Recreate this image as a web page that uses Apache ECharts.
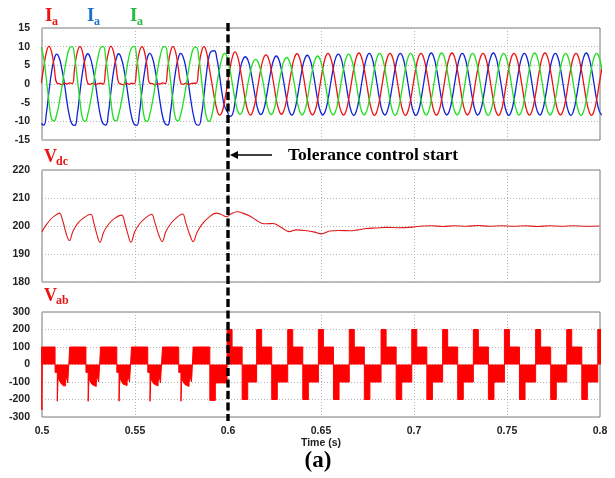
<!DOCTYPE html>
<html><head><meta charset="utf-8">
<script src="https://cdn.jsdelivr.net/npm/echarts@6/dist/echarts.min.js"></script>
<style>html,body{margin:0;padding:0;background:#fff}#c{width:615px;height:478px}</style>
</head><body><div id="c"></div>
<script>
// ---------- data ----------
const timeTicks = [0.5, 0.55, 0.6, 0.65, 0.7, 0.75, 0.8];
const FAULT_TIME = 0.6;
// phase currents sampled every 1/720 s starting at CURRENT_T0
const CURRENT_T0 = 0.49958;
const CURRENT_STEP = 1 / 720;
const iaRed = [
 0.2,4.5,8.5,10.1,8.6,4.6,0.3,0.1,-0.2,0.2,0.0,0.3,
 0.1,4.6,8.6,10.0,8.5,4.4,0.2,-0.1,0.2,-0.2,0.1,0.2,
 0.0,4.5,8.4,10.1,8.6,4.5,0.3,0.0,-0.2,0.2,-0.1,0.2,
 0.1,4.6,8.6,10.0,8.5,4.5,0.2,0.1,-0.2,0.1,0.0,0.3,
 0.1,4.5,8.5,10.0,8.6,4.6,0.3,-0.1,0.2,-0.1,0.1,0.2,
 0.2,4.5,8.5,10.0,8.5,4.5,0.5,-3.5,-6.8,-8.3,-7.5,-4.5,
 -0.5,3.8,7.2,8.6,7.4,4.2,0.0,-4.2,-7.2,-8.3,-7.1,-4.1,
 0.0,3.9,6.8,7.8,6.8,3.9,0.0,-4.1,-7.0,-8.1,-7.0,-4.1,
 0.0,4.0,7.0,8.1,7.0,4.0,0.0,-4.2,-7.2,-8.3,-7.2,-4.2,
 0.0,4.1,7.1,8.2,7.1,4.1,0.0,-4.2,-7.2,-8.3,-7.2,-4.1,
 0.0,4.1,7.2,8.3,7.1,4.1,0.0,-4.2,-7.2,-8.4,-7.2,-4.2,
 0.0,4.1,7.1,8.2,7.1,4.1,0.0,-4.2,-7.3,-8.4,-7.2,-4.2,
 0.0,4.1,7.1,8.2,7.1,4.1,0.0,-4.1,-7.2,-8.3,-7.2,-4.1,
 0.0,4.2,7.2,8.3,7.2,4.1,0.0,-4.2,-7.2,-8.3,-7.2,-4.2,
 0.0,4.1,7.1,8.2,7.1,4.1,0.0,-4.2,-7.3,-8.4,-7.3,-4.2,
 0.0,4.1,7.1,8.2,7.1,4.1,0.0,-4.1,-7.2,-8.3,-7.2,-4.1,
 0.0,4.2,7.2,8.3,7.2,4.1,0.0,-4.2,-7.2,-8.3,-7.2,-4.2,
 0.0,4.1,7.1,8.2,7.1,4.1,0.0,-4.2,-7.2,-8.4,-7.2,-4.2,
 0.0,4.1
];
const iaBlue = [
 -10.6,-11.0,-7.8,-2.0,3.2,6.6,8.0,6.9,4.0,0.0,-4.9,-8.8,
 -10.8,-11.1,-7.9,-2.1,3.1,6.7,8.1,7.0,4.1,0.1,-4.8,-8.7,
 -10.7,-11.0,-7.8,-2.0,3.3,6.7,8.1,6.9,4.0,-0.1,-4.9,-8.8,
 -10.8,-11.1,-7.9,-1.9,3.2,6.8,8.2,7.1,4.1,0.0,-4.8,-8.7,
 -10.7,-11.0,-7.7,-1.9,3.3,6.8,8.2,7.1,4.2,0.1,-4.7,-8.6,
 -10.8,-11.0,-8.5,-3.0,3.0,7.5,8.8,8.9,6.8,2.5,-2.5,-6.0,
 -7.3,-8.7,-8.2,-5.0,-0.5,3.8,6.4,7.3,6.4,3.7,0.0,-4.0,
 -7.1,-8.2,-7.1,-4.1,0.0,3.8,6.5,7.5,6.5,3.8,0.0,-4.1,
 -7.2,-8.3,-7.2,-4.1,0.0,3.9,6.7,7.7,6.7,3.9,0.0,-4.2,
 -7.2,-8.3,-7.2,-4.2,0.0,4.0,7.0,8.0,7.0,4.0,0.0,-4.2,
 -7.3,-8.4,-7.2,-4.2,0.0,4.1,7.1,8.2,7.1,4.1,0.0,-4.2,
 -7.2,-8.3,-7.2,-4.1,0.0,4.1,7.1,8.2,7.1,4.1,0.0,-4.2,
 -7.3,-8.4,-7.3,-4.2,0.0,4.1,7.2,8.3,7.1,4.1,0.0,-4.2,
 -7.2,-8.3,-7.2,-4.2,0.0,4.1,7.1,8.2,7.1,4.1,0.0,-4.1,
 -7.2,-8.3,-7.2,-4.2,0.0,4.2,7.2,8.3,7.2,4.1,0.0,-4.2,
 -7.3,-8.4,-7.3,-4.2,0.0,4.1,7.1,8.2,7.1,4.1,0.0,-4.2,
 -7.2,-8.3,-7.2,-4.1,0.0,4.1,7.1,8.2,7.1,4.1,0.0,-4.2,
 -7.2,-8.4,-7.3,-4.2,0.0,4.1,7.2,8.3,7.1,4.1,0.0,-4.2,
 -7.2,-8.3
];
const iaGreen = [
 9.9,6.8,1.2,-4.7,-9.3,-9.9,-8.1,-4.9,-0.9,3.6,7.3,9.6,
 10.0,6.9,1.3,-4.6,-9.2,-10.0,-8.2,-5.0,-1.0,3.5,7.2,9.7,
 10.0,6.8,1.2,-4.7,-9.3,-9.9,-8.1,-4.9,-0.9,3.6,7.4,9.7,
 10.1,6.9,1.3,-4.6,-9.3,-10.0,-8.2,-5.0,-0.9,3.6,7.3,9.7,
 10.0,6.8,1.2,-4.7,-9.2,-9.9,-8.1,-4.9,-0.9,3.6,7.3,9.6,
 9.9,7.0,1.5,-4.5,-9.0,-10.0,-8.5,-4.8,0.0,3.9,7.0,8.2,
 7.1,4.1,0.0,-4.0,-7.1,-8.1,-7.0,-3.9,0.0,3.4,5.8,6.6,
 5.8,3.4,0.0,-4.1,-7.1,-8.2,-7.1,-4.1,0.0,3.6,6.2,7.1,
 6.2,3.6,0.0,-4.2,-7.2,-8.3,-7.2,-4.2,0.0,3.8,6.5,7.5,
 6.5,3.8,0.0,-4.2,-7.2,-8.3,-7.2,-4.2,0.0,4.0,6.9,8.0,
 6.9,4.0,0.0,-4.2,-7.2,-8.3,-7.2,-4.2,0.0,4.1,7.1,8.2,
 7.1,4.1,0.0,-4.2,-7.3,-8.4,-7.2,-4.2,0.0,4.1,7.1,8.2,
 7.1,4.1,0.0,-4.2,-7.2,-8.3,-7.2,-4.1,0.0,4.1,7.2,8.3,
 7.2,4.1,0.0,-4.2,-7.2,-8.3,-7.2,-4.2,0.0,4.1,7.1,8.2,
 7.1,4.1,0.0,-4.2,-7.2,-8.4,-7.3,-4.2,0.0,4.1,7.1,8.2,
 7.1,4.1,0.0,-4.1,-7.2,-8.3,-7.2,-4.2,0.0,4.2,7.2,8.3,
 7.2,4.1,0.0,-4.2,-7.2,-8.3,-7.2,-4.2,0.0,4.1,7.1,8.2,
 7.1,4.1,0.0,-4.2,-7.3,-8.4,-7.2,-4.2,0.0,4.1,7.1,8.2,
 7.1,4.1
];
// DC-link voltage [time (s), volts]
const vdcPoints = [
 [0.5000,198.0],[0.5021,200.2],[0.5048,202.5],[0.5070,203.7],[0.5093,204.6],[0.5113,201.5],[0.5129,197.5],[0.5147,194.8],
 [0.5167,198.2],[0.5193,201.0],[0.5226,203.0],[0.5262,204.2],[0.5279,201.0],[0.5295,197.0],[0.5311,194.2],
 [0.5333,198.0],[0.5360,200.8],[0.5392,202.8],[0.5428,203.9],[0.5446,200.8],[0.5462,197.0],[0.5478,194.2],
 [0.5499,198.0],[0.5526,200.9],[0.5559,203.0],[0.5589,204.2],[0.5607,201.2],[0.5628,196.8],[0.5646,194.4],
 [0.5666,198.0],[0.5693,200.9],[0.5725,203.1],[0.5756,204.3],[0.5773,201.2],[0.5795,196.8],[0.5813,194.4],
 [0.5832,197.5],[0.5859,200.5],[0.5892,202.8],[0.5938,204.6],[0.5967,204.0],[0.5992,203.3],[0.6015,204.3],
 [0.6049,205.1],[0.6080,204.6],[0.6117,203.6],[0.6149,202.2],[0.6180,201.0],[0.6208,200.8],[0.6241,200.9],
 [0.6287,199.5],[0.6328,198.0],[0.6368,198.6],[0.6422,198.3],[0.6466,197.8],[0.6502,197.2],[0.6547,198.2],
 [0.6600,198.4],[0.6654,198.3],[0.6697,198.6],[0.6744,199.1],[0.6794,199.3],[0.6851,199.5],[0.6912,199.4],
 [0.6992,199.6],[0.7046,200.0],[0.7100,200.1],[0.7154,199.8],[0.7218,200.1],[0.7283,199.9],[0.7342,200.2],
 [0.7406,199.9],[0.7470,200.1],[0.7535,199.9],[0.7599,200.1],[0.7664,199.8],[0.7728,200.1],[0.7793,199.9],
 [0.7857,200.1],[0.7922,199.9],[0.7997,200.0]
];
// line voltage Vab: [time (s) where level starts, level (V)]
const vabLevels = [
 [0.49828,100],[0.4999,-260],[0.5002,100],[0.50703,-45],[0.50822,-210],[0.50865,-75],[0.50945,-95],[0.51042,-110],[0.51149,-122],[0.51257,-100],[0.51321,-70],[0.51386,-105],[0.51418,-45],
 [0.51488,100],[0.52363,-45],[0.52482,-210],[0.52525,-80],[0.52605,-100],[0.52702,-115],[0.52809,-125],[0.52917,-100],[0.52981,-65],[0.53046,-100],[0.53078,-40],
 [0.53147,100],[0.54022,-45],[0.54141,-210],[0.54184,-75],[0.54264,-95],[0.54361,-112],[0.54468,-120],[0.54576,-98],[0.54640,-68],[0.54705,-100],[0.54737,-45],
 [0.54812,100],[0.55687,-45],[0.55806,-210],[0.55849,-78],[0.55929,-98],[0.56026,-112],[0.56133,-122],[0.56241,-100],[0.56305,-70],[0.56370,-105],[0.56402,-45],
 [0.56477,100],[0.57352,-45],[0.57471,-210],[0.57514,-80],[0.57594,-100],[0.57691,-115],[0.57798,-125],[0.57906,-102],[0.57970,-70],[0.58035,-100],[0.58067,-45],
 [0.58126,100],[0.59023,-205],[0.59318,-105],
 [0.5995,200],[0.6022,100],[0.6076,-200],[0.6106,-100],
 [0.6154,200],[0.6181,100],[0.6235,-200],[0.6265,-100],
 [0.6321,200],[0.6348,100],[0.6402,-200],[0.6432,-100],
 [0.6486,200],[0.6513,100],[0.6567,-200],[0.6597,-100],
 [0.6652,200],[0.6679,100],[0.6733,-200],[0.6763,-100],
 [0.6823,200],[0.6850,100],[0.6904,-200],[0.6934,-100],
 [0.6988,200],[0.7015,100],[0.7069,-200],[0.7099,-100],
 [0.7154,200],[0.7181,100],[0.7235,-200],[0.7265,-100],
 [0.7319,200],[0.7346,100],[0.7400,-200],[0.7430,-100],
 [0.7486,200],[0.7513,100],[0.7567,-200],[0.7597,-100],
 [0.7654,200],[0.7681,100],[0.7735,-200],[0.7765,-100],
 [0.7821,200],[0.7848,100],[0.7902,-200],[0.7932,-100],
 [0.7988,200],[0.8015,100]
];
const yRanges = [[-15, 15, 5], [180, 220, 10], [-300, 300, 100]];

// ---------- chart ----------
const chart = echarts.init(document.getElementById('c'), null, {renderer: 'canvas', width: 615, height: 478});
const sans = 'Liberation Sans, Arial, sans-serif';
const serif = 'Liberation Serif, Times New Roman, serif';
const withTime = arr => arr.map((v, i) => [CURRENT_T0 + i * CURRENT_STEP, v]);
const grids = [
  {left: 42, top: 28, width: 558, height: 112},
  {left: 42, top: 170, width: 558, height: 112},
  {left: 42, top: 312, width: 558, height: 105}
].map(g => Object.assign(g, {show: true, borderColor: '#7a7a7a', borderWidth: 1, backgroundColor: 'transparent'}));
const split = {show: true, lineStyle: {type: [1, 2], color: '#b4b4b4', width: 1}};
const xAxes = [0, 1, 2].map(i => ({
  type: 'value', gridIndex: i, min: timeTicks[0], max: timeTicks[timeTicks.length - 1], interval: 0.05,
  axisLine: {show: false}, axisTick: {show: false}, splitLine: split,
  axisLabel: i === 2 ? {show: true, margin: 9, fontFamily: sans, fontWeight: 'bold', fontSize: 10.5, color: '#222',
    formatter: v => String(+v.toFixed(2))} : {show: false},
  name: i === 2 ? 'Time (s)' : '', nameLocation: 'middle', nameGap: 21,
  nameTextStyle: {fontFamily: sans, fontWeight: 'bold', fontSize: 10.5, color: '#222'}
}));
const yAxes = yRanges.map((r, i) => ({
  type: 'value', gridIndex: i, min: r[0], max: r[1], interval: r[2],
  axisLine: {show: false}, axisTick: {show: false}, splitLine: split,
  axisLabel: {margin: 12, fontFamily: sans, fontWeight: 'bold', fontSize: 10.5, color: '#222'}
}));
const lineBase = {type: 'line', symbol: 'none', animation: false, silent: true};
chart.setOption({
  animation: false,
  grid: grids, xAxis: xAxes, yAxis: yAxes,
  series: [
    Object.assign({}, lineBase, {name: 'Ib', xAxisIndex: 0, yAxisIndex: 0, data: withTime(iaBlue), smooth: 0.5, lineStyle: {color: '#1022d8', width: 1.3}}),
    Object.assign({}, lineBase, {name: 'Ia', xAxisIndex: 0, yAxisIndex: 0, data: withTime(iaRed), smooth: 0.5, lineStyle: {color: '#ee1111', width: 1.3}}),
    Object.assign({}, lineBase, {name: 'Ic', xAxisIndex: 0, yAxisIndex: 0, data: withTime(iaGreen), smooth: 0.5, lineStyle: {color: '#1ee01e', width: 1.3}}),
    Object.assign({}, lineBase, {name: 'Vdc', xAxisIndex: 1, yAxisIndex: 1, data: vdcPoints, smooth: 0.4, lineStyle: {color: '#e01818', width: 1.1}}),
    Object.assign({}, lineBase, {name: 'Vab', xAxisIndex: 2, yAxisIndex: 2, data: vabLevels, step: 'end',
      lineStyle: {color: '#ff0000', width: 1}, areaStyle: {color: '#ff0000', opacity: 1}})
  ]
});
const fx = chart.convertToPixel({xAxisIndex: 0}, FAULT_TIME);
const lbl = (text, x, y, size, color) => ({type: 'text', x: x, y: y, z: 50,
  style: {text: text, font: 'bold ' + size + 'px ' + serif, fill: color, verticalAlign: 'top'}});
chart.setOption({graphic: [
  lbl('I', 45, 7, 19, '#ee1111'), lbl('a', 52, 16, 12, '#ee1111'),
  lbl('I', 87, 7, 19, '#1f6fce'), lbl('a', 94, 16, 12, '#1f6fce'),
  lbl('I', 130, 7, 19, '#22bb44'), lbl('a', 137, 16, 12, '#22bb44'),
  lbl('V', 44, 148, 18, '#ee1111'), lbl('dc', 56, 156, 12, '#ee1111'),
  lbl('V', 44, 287, 18, '#ee1111'), lbl('ab', 56, 295, 12, '#ee1111'),
  {type: 'line', z: 100, shape: {x1: fx, y1: 23, x2: fx, y2: 421}, style: {stroke: '#000', lineWidth: 3.4, lineDash: [8, 3.5]}},
  {type: 'line', z: 100, shape: {x1: fx + 44, y1: 155, x2: fx + 8, y2: 155}, style: {stroke: '#000', lineWidth: 1.5}},
  {type: 'polygon', z: 100, shape: {points: [[fx + 2, 155], [fx + 10, 151], [fx + 10, 159]]}, style: {fill: '#000'}},
  {type: 'text', z: 100, x: fx + 60, y: 155, style: {text: 'Tolerance control start', font: 'bold 17.5px ' + serif, fill: '#000', verticalAlign: 'middle'}},
  {type: 'text', z: 100, x: 318, y: 461, style: {text: '(a)', font: 'bold 23px ' + serif, fill: '#000', align: 'center', verticalAlign: 'middle'}}
]});
</script>
</body></html>
